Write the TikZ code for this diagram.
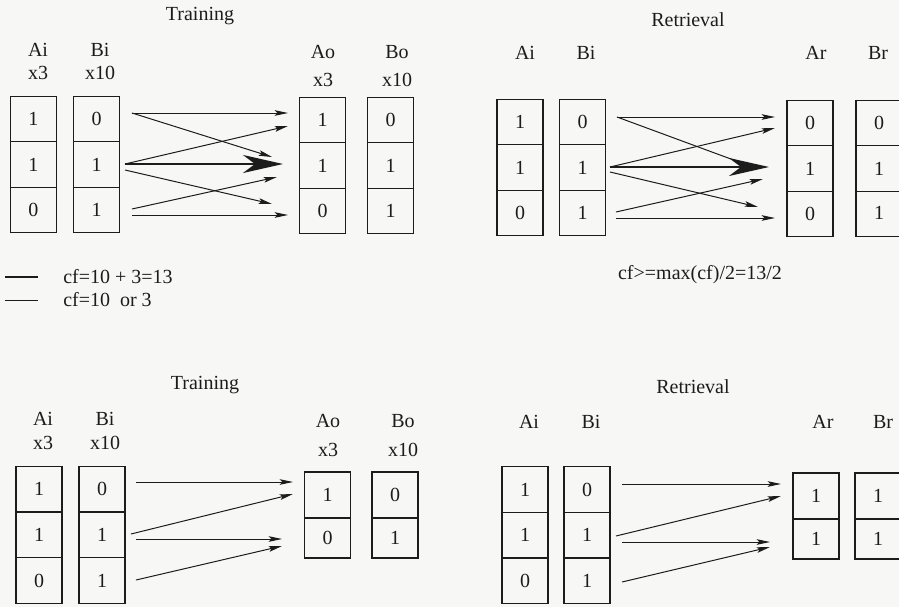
\documentclass[tikz,border=0pt]{standalone}
\usepackage{fontspec}
\setmainfont{Liberation Serif}
\usetikzlibrary{arrows.meta}
\definecolor{ink}{HTML}{1C1C1C}
\definecolor{paper}{HTML}{F7F7F5}
\begin{document}
\begin{tikzpicture}[x=0.75pt,y=-0.75pt,
  every node/.style={font=\fontsize{15}{18}\selectfont, text=ink},
  cell/.style={draw=ink, line width=0.9pt, minimum width=34.5pt, minimum height=34pt, inner sep=0pt},
  lbl/.style={inner sep=0pt},
  thinarrow/.style={draw=ink, line width=0.75pt, -{Stealth[length=10pt,width=4.2pt,inset=2pt]}},
  thickarrow/.style={draw=ink, line width=1.8pt, -{Stealth[length=30pt,width=13.5pt,inset=9pt]}},
]
\fill[paper] (0,0) rectangle (899,607);
\useasboundingbox (0,0) rectangle (899,607);

% ================= TOP LEFT: Training =================
\node[lbl] (t1title) at (200,16) {Training};
\node[lbl] (t1ai) at (38,50) {Ai};
\node[lbl] (t1aix) at (38,73) {x3};
\node[lbl] (t1bi) at (100,50) {Bi};
\node[lbl] (t1bix) at (100,73) {x10};
\node[lbl] (t1ao) at (323,52) {Ao};
\node[lbl] (t1aox) at (323,80) {x3};
\node[lbl] (t1bo) at (397,52) {Bo};
\node[lbl] (t1box) at (397,80) {x10};

\node[cell] (t1a1) at (33.5,119) {1};
\node[cell] (t1a2) at (33.5,164.5) {1};
\node[cell] (t1a3) at (33.5,210) {0};
\node[cell] (t1b1) at (96.5,119) {0};
\node[cell] (t1b2) at (96.5,164.5) {1};
\node[cell] (t1b3) at (96.5,210) {\raisebox{-4pt}{1}};
\node[cell] (t1o1) at (322.5,120) {1};
\node[cell] (t1o2) at (322.5,165.5) {1};
\node[cell] (t1o3) at (322.5,211) {0};
\node[cell] (t1p1) at (390.5,120) {0};
\node[cell] (t1p2) at (390.5,165.5) {1};
\node[cell] (t1p3) at (390.5,211) {\raisebox{-4pt}{1}};

\coordinate (t1s1) at (132,113);
\coordinate (t1s2) at (125,164);
\coordinate (t1s3) at (125,170);
\coordinate (t1s4) at (132,209);
\coordinate (t1s5) at (132,215);
\coordinate (t1e1) at (288,113);
\coordinate (t1e2) at (272,157);
\coordinate (t1e3) at (288,126);
\coordinate (t1e4) at (283,164);
\coordinate (t1e5) at (272,204);
\coordinate (t1e6) at (277,177);
\coordinate (t1e7) at (288,215);
\draw[thinarrow] (t1s1) -- (t1e1);
\draw[thinarrow] (t1s1) -- (t1e2);
\draw[thinarrow] (t1s2) -- (t1e3);
\draw[thickarrow] (t1s2) -- (t1e4);
\draw[thinarrow] (t1s3) -- (t1e5);
\draw[thinarrow] (t1s4) -- (t1e6);
\draw[thinarrow] (t1s5) -- (t1e7);

% legend
\coordinate (lg1a) at (5,277);
\coordinate (lg1b) at (38,277);
\coordinate (lg2a) at (5,300);
\coordinate (lg2b) at (38,300);
\draw[ink, line width=1.9pt] (lg1a) -- (lg1b);
\draw[ink, line width=0.75pt] (lg2a) -- (lg2b);
\node[lbl, anchor=west] (lg1t) at (63,277) {cf=10 + 3=13};
\node[lbl, anchor=west] (lg2t) at (63,300) {cf=10\ \ or 3};

% ================= TOP RIGHT: Retrieval =================
\node[lbl] (r1title) at (688,20) {Retrieval};
\node[lbl] (r1ai) at (525,53) {Ai};
\node[lbl] (r1bi) at (586,53) {Bi};
\node[lbl] (r1ar) at (816,53) {Ar};
\node[lbl] (r1br) at (878,53) {Br};

\node[cell] (r1a1) at (520,122) {1};
\node[cell] (r1a2) at (520,167.5) {1};
\node[cell] (r1a3) at (520,213) {0};
\node[cell] (r1b1) at (582.5,122) {0};
\node[cell] (r1b2) at (582.5,167.5) {1};
\node[cell] (r1b3) at (582.5,213) {\raisebox{-4pt}{1}};
\node[cell] (r1o1) at (810,123) {0};
\node[cell] (r1o2) at (810,168.5) {1};
\node[cell] (r1o3) at (810,214) {0};
\node[cell] (r1p1) at (879,123) {0};
\node[cell] (r1p2) at (879,168.5) {1};
\node[cell] (r1p3) at (879,214) {\raisebox{2pt}{1}};

\coordinate (r1s1) at (617,117);
\coordinate (r1s2) at (610,167);
\coordinate (r1s3) at (610,172);
\coordinate (r1s4) at (616,212);
\coordinate (r1s5) at (616,218);
\coordinate (r1e1) at (775,117);
\coordinate (r1e2) at (758,169);
\coordinate (r1e3) at (775,128);
\coordinate (r1e4) at (769,167);
\coordinate (r1e5) at (758,207);
\coordinate (r1e6) at (763,179);
\coordinate (r1e7) at (775,218);
\draw[thinarrow] (r1s1) -- (r1e1);
\draw[thinarrow] (r1s1) -- (r1e2);
\draw[thinarrow] (r1s2) -- (r1e3);
\draw[thickarrow] (r1s2) -- (r1e4);
\draw[thinarrow] (r1s3) -- (r1e5);
\draw[thinarrow] (r1s4) -- (r1e6);
\draw[thinarrow] (r1s5) -- (r1e7);

\node[lbl] (r1cf) at (700,275) {cf>=max(cf)/2=13/2};

% ================= BOTTOM LEFT: Training =================
\node[lbl] (t2title) at (205,385) {Training};
\node[lbl] (t2ai) at (43,419) {Ai};
\node[lbl] (t2aix) at (43,443) {x3};
\node[lbl] (t2bi) at (105,419) {Bi};
\node[lbl] (t2bix) at (105,443) {x10};
\node[lbl] (t2ao) at (328,421) {Ao};
\node[lbl] (t2aox) at (328,450) {x3};
\node[lbl] (t2bo) at (403,421) {Bo};
\node[lbl] (t2box) at (403,450) {x10};

\node[cell, minimum height=34.3pt] (t2a1) at (39,489) {1};
\node[cell, minimum height=34.3pt] (t2a2) at (39,535) {1};
\node[cell, minimum height=34.3pt] (t2a3) at (39,580.5) {0};
\node[cell, minimum height=34.3pt] (t2b1) at (102,489) {0};
\node[cell, minimum height=34.3pt] (t2b2) at (102,535) {1};
\node[cell, minimum height=34.3pt] (t2b3) at (102,580.5) {\raisebox{-4pt}{1}};
\node[cell, minimum height=34.5pt] (t2o1) at (327.5,495) {1};
\node[cell, minimum height=30pt] (t2o2) at (327.5,538) {0};
\node[cell, minimum height=34.5pt] (t2p1) at (395,495) {0};
\node[cell, minimum height=30pt] (t2p2) at (395,538) {1};

\coordinate (t2s1) at (136,482);
\coordinate (t2s2) at (131,534);
\coordinate (t2s3) at (136,539);
\coordinate (t2s4) at (136,580);
\coordinate (t2e1) at (293,482);
\coordinate (t2e2) at (293,494);
\coordinate (t2e3) at (282,539);
\coordinate (t2e4) at (282,546);
\draw[thinarrow] (t2s1) -- (t2e1);
\draw[thinarrow] (t2s2) -- (t2e2);
\draw[thinarrow] (t2s3) -- (t2e3);
\draw[thinarrow] (t2s4) -- (t2e4);

% ================= BOTTOM RIGHT: Retrieval =================
\node[lbl] (r2title) at (693,387) {Retrieval};
\node[lbl] (r2ai) at (529,422) {Ai};
\node[lbl] (r2bi) at (591,422) {Bi};
\node[lbl] (r2ar) at (823,422) {Ar};
\node[lbl] (r2br) at (883,422) {Br};

\node[cell, minimum height=34.3pt] (r2a1) at (525,489.5) {1};
\node[cell, minimum height=34.3pt] (r2a2) at (525,535) {1};
\node[cell, minimum height=34.3pt] (r2a3) at (525,581) {0};
\node[cell, minimum height=34.3pt] (r2b1) at (587,489.5) {0};
\node[cell, minimum height=34.3pt] (r2b2) at (587,535) {1};
\node[cell, minimum height=34.3pt] (r2b3) at (587,581) {\raisebox{-4pt}{1}};
\node[cell, minimum height=34.5pt] (r2o1) at (816,496) {1};
\node[cell, minimum height=30pt] (r2o2) at (816,539) {1};
\node[cell, minimum height=34.5pt] (r2p1) at (878,496) {1};
\node[cell, minimum height=30pt] (r2p2) at (878,539) {1};

\coordinate (r2s1) at (622,484);
\coordinate (r2s2) at (616,536);
\coordinate (r2s3) at (622,542);
\coordinate (r2s4) at (622,582);
\coordinate (r2e1) at (781,484);
\coordinate (r2e2) at (781,496);
\coordinate (r2e3) at (770,542);
\coordinate (r2e4) at (770,547);
\draw[thinarrow] (r2s1) -- (r2e1);
\draw[thinarrow] (r2s2) -- (r2e2);
\draw[thinarrow] (r2s3) -- (r2e3);
\draw[thinarrow] (r2s4) -- (r2e4);
\end{tikzpicture}
\end{document}
